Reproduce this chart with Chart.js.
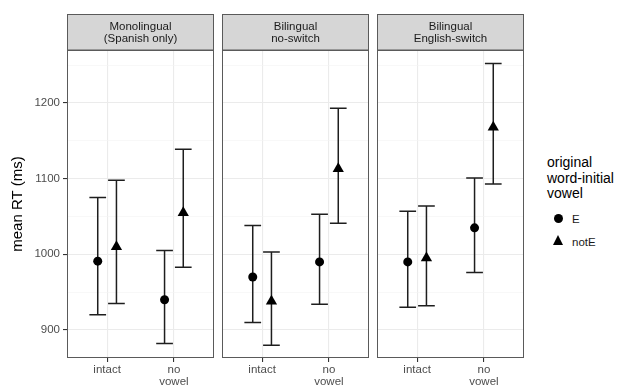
<!DOCTYPE html>
<html>
<head>
    <meta charset="utf-8" />
    <title>mean RT by condition</title>
    <script src="https://cdn.jsdelivr.net/npm/chart.js"></script>
    <style>
        body { margin: 0; background: #fff; font-family: 'Liberation Sans', Arial, sans-serif; }
        #wrap { position: relative; width: 617px; height: 387px; overflow: hidden; }
        .panel { position: absolute; top: 0; height: 387px; }
        #legend { position: absolute; left: 547px; top: 155px; color: #000; }
        #legend .title { font-size: 14px; line-height: 15.5px; }
        #legend .item { position: relative; height: 23px; font-size: 11.5px; color: #1a1a1a; }
        #legend .item span { position: absolute; left: 25px; top: 11px; }
        .dot { position: absolute; left: 7px; top: 12px; width: 9px; height: 9px; border-radius: 50%; background: #000; }
        .tri { position: absolute; left: 6px; top: 10px; width: 0; height: 0;
               border-left: 5.5px solid transparent; border-right: 5.5px solid transparent; border-bottom: 10px solid #000; }
    </style>
</head>
<body>
<div id="wrap">
    <div class="panel" style="left:0px;width:216px"><canvas id="c0"></canvas></div>
    <div class="panel" style="left:220px;width:151px"><canvas id="c1"></canvas></div>
    <div class="panel" style="left:375px;width:151px"><canvas id="c2"></canvas></div>
    <div id="legend">
        <div class="title">original<br>word-initial<br>vowel</div>
        <div class="item"><div class="dot"></div><span>E</span></div>
        <div class="item"><div class="tri"></div><span>notE</span></div>
    </div>
</div>
<script>
    // facets and x categories
    var panels = [['Monolingual', '(Spanish only)'], ['Bilingual', 'no-switch'], ['Bilingual', 'English-switch']];
    var categories = [['intact'], ['no', 'vowel']];
    var groups = ['E', 'notE'];

    // mean RT and error bar limits, one row per panel: [intact, no vowel]
    var meanE  = [[991, 940], [970, 990], [990, 1035]];
    var lowE   = [[920, 882], [910, 934], [930, 976]];
    var highE  = [[1075, 1005], [1038, 1053], [1057, 1101]];
    var meanNotE = [[1010, 1055], [938, 1113], [995, 1168]];
    var lowNotE  = [[935, 983], [880, 1041], [932, 1093]];
    var highNotE = [[1098, 1139], [1003, 1193], [1064, 1252]];

    // y axis ticks
    var yTicks = [900, 1000, 1100, 1200];
    var yMinor = [950, 1050, 1150, 1250];

    var dodge = 0.14;
    var capHalf = 0.125;

    function pts(means, lows, highs, off) {
        return means.map(function (m, i) {
            return { x: i + 1 + off, y: m, lo: lows[i], hi: highs[i] };
        });
    }

    var facetPlugin = {
        id: 'facet',
        beforeDatasetsDraw: function (chart) {
            var c = chart.ctx, xs = chart.scales.x, ys = chart.scales.y;
            c.save();
            c.strokeStyle = '#1e1e1e';
            c.lineWidth = 1.5;
            chart.data.datasets.forEach(function (ds) {
                ds.data.forEach(function (p) {
                    var x = xs.getPixelForValue(p.x);
                    var x0 = xs.getPixelForValue(p.x - capHalf), x1 = xs.getPixelForValue(p.x + capHalf);
                    var yl = ys.getPixelForValue(p.lo), yh = ys.getPixelForValue(p.hi);
                    c.beginPath();
                    c.moveTo(x, yl); c.lineTo(x, yh);
                    c.moveTo(x0, yl); c.lineTo(x1, yl);
                    c.moveTo(x0, yh); c.lineTo(x1, yh);
                    c.stroke();
                });
            });
            c.restore();
        },
        afterDraw: function (chart) {
            var c = chart.ctx, a = chart.chartArea;
            var lines = chart.options.plugins.facet.label;
            c.save();
            c.strokeStyle = '#5a5a5a';
            c.lineWidth = 1;
            c.strokeRect(a.left + 0.5, a.top + 0.5, a.right - a.left - 1, a.bottom - a.top - 1);
            c.fillStyle = '#d6d6d6';
            c.fillRect(a.left + 0.5, 14.5, a.right - a.left - 1, a.top - 14.5);
            c.strokeRect(a.left + 0.5, 14.5, a.right - a.left - 1, a.top - 14.5);
            c.fillStyle = '#1a1a1a';
            c.font = '11.5px "Liberation Sans", Arial, sans-serif';
            c.textAlign = 'center';
            c.textBaseline = 'middle';
            var cx = (a.left + a.right) / 2;
            c.fillText(lines[0], cx, 27);
            c.fillText(lines[1], cx, 39);
            c.restore();
        }
    };

    panels.forEach(function (label, k) {
        var first = k === 0;
        new Chart(document.getElementById('c' + k), {
            type: 'scatter',
            data: {
                datasets: [
                    {
                        label: groups[0],
                        data: pts(meanE[k], lowE[k], highE[k], -dodge),
                        pointStyle: 'circle', pointRadius: 4.5,
                        backgroundColor: '#000', borderColor: '#000', borderWidth: 0
                    },
                    {
                        label: groups[1],
                        data: pts(meanNotE[k], lowNotE[k], highNotE[k], dodge),
                        pointStyle: 'triangle', pointRadius: 6.5,
                        backgroundColor: '#000', borderColor: '#000', borderWidth: 0
                    }
                ]
            },
            options: {
                responsive: true,
                maintainAspectRatio: false,
                animation: false,
                events: [],
                layout: { autoPadding: false, padding: { top: 50, left: first ? 0 : 2, right: 2, bottom: 0 } },
                plugins: {
                    legend: { display: false },
                    tooltip: { enabled: false },
                    facet: { label: label }
                },
                scales: {
                    x: {
                        type: 'linear', min: 0.4, max: 2.6,
                        afterBuildTicks: function (s) { s.ticks = categories.map(function (c, i) { return { value: i + 1 }; }); },
                        afterFit: function (s) { s.height = 29; },
                        border: { display: false },
                        grid: { color: '#ebebeb', lineWidth: 1.1, tickColor: '#333', tickLength: 4 },
                        ticks: {
                            padding: 2, color: '#4d4d4d',
                            font: { family: '"Liberation Sans", Arial, sans-serif', size: 11.5, lineHeight: 1.05 },
                            maxRotation: 0,
                            callback: function (v) { return categories[v - 1]; }
                        }
                    },
                    y: {
                        min: 863, max: 1270,
                        afterBuildTicks: function (s) {
                            s.ticks = yTicks.concat(yMinor).sort(function (a, b) { return a - b; })
                                .map(function (v) { return { value: v }; });
                        },
                        afterFit: function (s) { s.width = first ? 67 : 0; },
                        border: { display: false },
                        grid: {
                            drawTicks: first,
                            tickLength: 4,
                            color: function (ctx) { return yTicks.indexOf(ctx.tick.value) >= 0 ? '#ebebeb' : '#f4f4f4'; },
                            lineWidth: function (ctx) { return yTicks.indexOf(ctx.tick.value) >= 0 ? 1.1 : 0.6; },
                            tickColor: function (ctx) { return yTicks.indexOf(ctx.tick.value) >= 0 ? '#333' : 'rgba(0,0,0,0)'; }
                        },
                        ticks: {
                            display: first,
                            padding: 3, color: '#4d4d4d',
                            font: { family: '"Liberation Sans", Arial, sans-serif', size: 11.5 },
                            callback: function (v) { return yTicks.indexOf(v) >= 0 ? String(v) : ''; }
                        },
                        title: {
                            display: first,
                            text: 'mean RT (ms)',
                            color: '#000',
                            padding: { top: 9, bottom: 0 },
                            font: { family: '"Liberation Sans", Arial, sans-serif', size: 15 }
                        }
                    }
                }
            },
            plugins: [facetPlugin]
        });
    });
</script>
</body>
</html>
